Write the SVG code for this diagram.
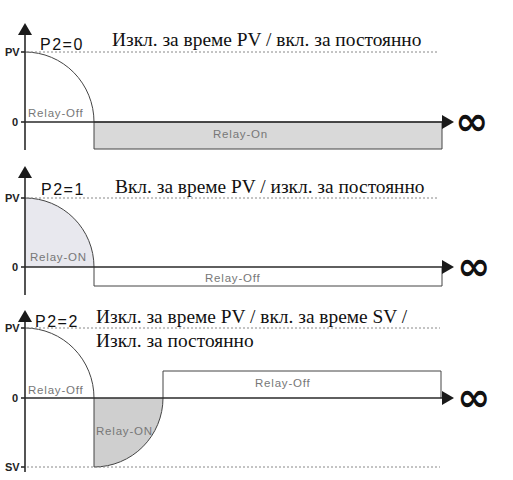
<svg xmlns="http://www.w3.org/2000/svg" width="513" height="480" viewBox="0 0 513 480">
<style>
.axis{stroke:#2a2a2a;stroke-width:1.6;fill:none}
.curve{stroke:#444;stroke-width:1;fill:none}
.dot{stroke:#888;stroke-width:1;stroke-dasharray:2 2;fill:none}
.box{stroke:#444;stroke-width:1}
.lbl{font-family:"Liberation Sans",Arial,sans-serif;font-size:11.5px;fill:#777;letter-spacing:0.8px}
.ax{font-family:"Liberation Sans",Arial,sans-serif;font-size:11px;font-weight:bold;fill:#222}
.p2{font-family:"Liberation Sans",Arial,sans-serif;font-size:16px;fill:#111;letter-spacing:1.5px}
.ru{font-family:"Liberation Serif","Times New Roman",serif;font-size:19.4px;fill:#111}
.inf{font-family:"DejaVu Sans",sans-serif;font-size:40px;font-weight:bold;fill:#111}
</style>
<defs>
<marker id="ah" markerWidth="12" markerHeight="14" refX="0" refY="7" orient="auto" markerUnits="userSpaceOnUse">
<path d="M0,0 L12,7 L0,14 Z" fill="#1a1a1a"/>
</marker>
</defs>

<g id="panel1">
<path d="M94,122 H442 V149 H94 Z" fill="#d9d9d9" class="box"/>
<path class="curve" d="M25,52 A69,70 0 0 1 94,122"/>
<line class="dot" x1="27" y1="52" x2="438" y2="52"/>
<line class="axis" x1="25" y1="150" x2="25" y2="35" marker-end="url(#ah)"/>
<line class="axis" x1="25" y1="122" x2="442" y2="122" marker-end="url(#ah)"/>
<line class="axis" x1="21" y1="52" x2="25" y2="52"/>
<line class="axis" x1="21" y1="122" x2="25" y2="122"/>
<text class="ax" x="5" y="56">PV</text>
<text class="ax" x="12" y="126">0</text>
<text class="p2" x="40" y="50">P2=0</text>
<text class="ru" x="112" y="46">Изкл. за време PV / вкл. за постоянно</text>
<text class="lbl" x="28" y="117">Relay-Off</text>
<text class="lbl" x="213" y="138">Relay-On</text>
<text class="inf" x="455" y="135">∞</text>
</g>

<g id="panel2">
<path d="M25,198 A69,69 0 0 1 94,267 H25 Z" fill="#e8e8ee"/>
<path class="curve" d="M25,198 A69,69 0 0 1 94,267"/>
<path d="M94,267 V286 H442 V267" fill="none" class="box"/>
<line class="dot" x1="27" y1="198" x2="438" y2="198"/>
<line class="axis" x1="25" y1="295" x2="25" y2="178" marker-end="url(#ah)"/>
<line class="axis" x1="25" y1="267" x2="442" y2="267" marker-end="url(#ah)"/>
<line class="axis" x1="21" y1="198" x2="25" y2="198"/>
<line class="axis" x1="21" y1="267" x2="25" y2="267"/>
<text class="ax" x="5" y="202">PV</text>
<text class="ax" x="12" y="271">0</text>
<text class="p2" x="41" y="195">P2=1</text>
<text class="ru" x="115" y="193">Вкл. за време PV / изкл. за постоянно</text>
<text class="lbl" x="30" y="261">Relay-ON</text>
<text class="lbl" x="205" y="282">Relay-Off</text>
<text class="inf" x="457" y="280">∞</text>
</g>

<g id="panel3">
<path d="M94,398 V467 A69,69 0 0 0 163,398 Z" fill="#cfcfcf"/>
<path class="curve" d="M94,398 V467 A69,69 0 0 0 163,398"/>
<path class="curve" d="M25,328 A69,70 0 0 1 94,398"/>
<path d="M163,398 V371 H441 V398" fill="none" class="box"/>
<line class="dot" x1="27" y1="328" x2="440" y2="328"/>
<line class="dot" x1="27" y1="467" x2="440" y2="467"/>
<line class="axis" x1="25" y1="472" x2="25" y2="322" marker-end="url(#ah)"/>
<line class="axis" x1="25" y1="398" x2="442" y2="398" marker-end="url(#ah)"/>
<line class="axis" x1="21" y1="328" x2="25" y2="328"/>
<line class="axis" x1="21" y1="398" x2="25" y2="398"/>
<line class="axis" x1="21" y1="467" x2="25" y2="467"/>
<text class="ax" x="5" y="332">PV</text>
<text class="ax" x="12" y="402">0</text>
<text class="ax" x="5" y="471">SV</text>
<text class="p2" x="35" y="327">P2=2</text>
<text class="ru" x="96" y="323">Изкл. за време PV / вкл. за време SV /</text>
<text class="ru" x="96" y="347">Изкл. за постоянно</text>
<text class="lbl" x="28" y="394">Relay-Off</text>
<text class="lbl" x="96" y="435">Relay-ON</text>
<text class="lbl" x="255" y="387">Relay-Off</text>
<text class="inf" x="457" y="411">∞</text>
</g>
</svg>
